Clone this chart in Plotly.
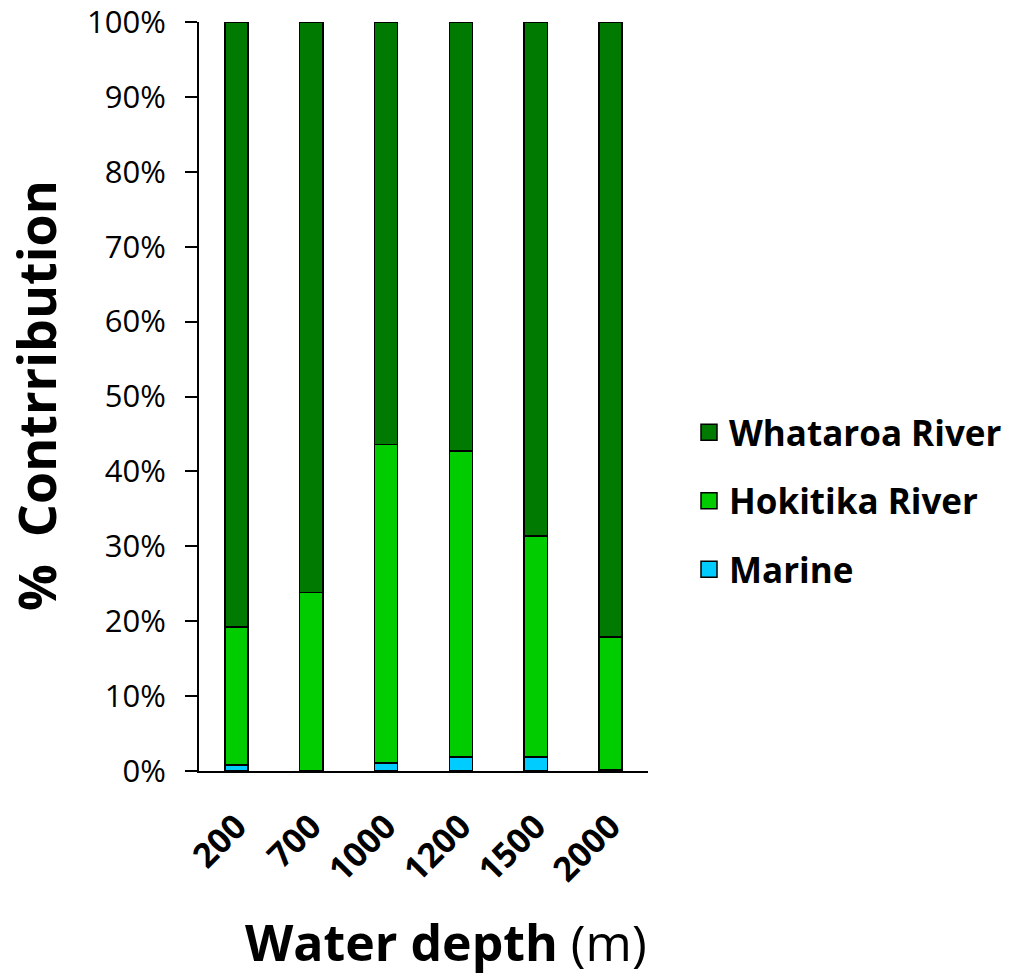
import plotly.graph_objects as go

depths = ["200", "700", "1000", "1200", "1500", "2000"]
marine = [0.8, 0.0, 1.1, 1.9, 1.9, 0.2]
hokitika = [18.4, 23.8, 42.5, 40.8, 29.5, 17.7]
whataroa = [80.8, 76.2, 56.4, 57.3, 68.6, 82.1]

y_ticks = [0, 10, 20, 30, 40, 50, 60, 70, 80, 90, 100]
y_tick_text = [f"{v}%" for v in y_ticks]

FONT = "Open Sans"
series = [
    ("Marine", marine, "#00CCFF"),
    ("Hokitika River", hokitika, "#00CC00"),
    ("Whataroa River", whataroa, "#007A00"),
]

# the page body adds an 8px offset, so the figure is drawn 8px smaller
W, H = 1005, 969
L, T = 191, 14
pw, ph = 449, 749
R, B = W - L - pw, H - T - ph


def px(x):
    return (x - L) / pw


def py(y):
    return (T + ph - y) / ph


fig = go.Figure()
for name, vals, col in series:
    fig.add_trace(go.Bar(
        x=depths, y=vals, name=name, showlegend=False,
        marker=dict(color=col, line=dict(color="black", width=1.5)),
    ))
# legend entries (larger square swatches)
for name, vals, col in reversed(series):
    fig.add_trace(go.Scatter(
        x=[None], y=[None], mode="markers", name=name, legendgroup=name,
        marker=dict(symbol="square", size=22, color=col,
                    line=dict(color="black", width=1.5)),
    ))

fig.update_layout(
    width=W, height=H,
    barmode="stack", bargap=0.69,
    plot_bgcolor="white", paper_bgcolor="white",
    margin=dict(l=L, r=R, t=T, b=B, autoexpand=False),
    font=dict(family=FONT, color="black"),
    legend=dict(
        x=px(681), xanchor="left", y=py(493), yanchor="middle",
        font=dict(family=FONT, size=35, color="black", weight="bold"),
        itemsizing="trace", tracegroupgap=20, traceorder="grouped",
        bgcolor="rgba(0,0,0,0)", borderwidth=0,
    ),
    xaxis=dict(
        type="category", automargin=False,
        showline=True, linecolor="black", linewidth=2,
        ticks="", tickangle=-45, ticklabelstandoff=20,
        tickfont=dict(family=FONT, size=34, color="black", weight="bold"),
    ),
    yaxis=dict(
        range=[0, 100], tickvals=y_ticks, ticktext=y_tick_text, automargin=False,
        showline=True, linecolor="black", linewidth=2,
        ticks="outside", ticklen=12, tickwidth=2, tickcolor="black",
        ticklabelstandoff=13, ticklabeloverflow="allow",
        showgrid=False, zeroline=False,
        tickfont=dict(family=FONT, size=31, color="black"),
    ),
    annotations=[
        dict(text="<b>Water depth</b> (m)", xref="paper", yref="paper",
             x=px(437.5), y=py(934), xanchor="center", yanchor="middle",
             showarrow=False, font=dict(family=FONT, size=50, color="black")),
        dict(text="<b>%  Contrribution</b>", xref="paper", yref="paper", textangle=-90,
             x=px(27), y=py(388), xanchor="center", yanchor="middle",
             showarrow=False, font=dict(family=FONT, size=52, color="black")),
    ],
)

fig.write_html("out.html")
